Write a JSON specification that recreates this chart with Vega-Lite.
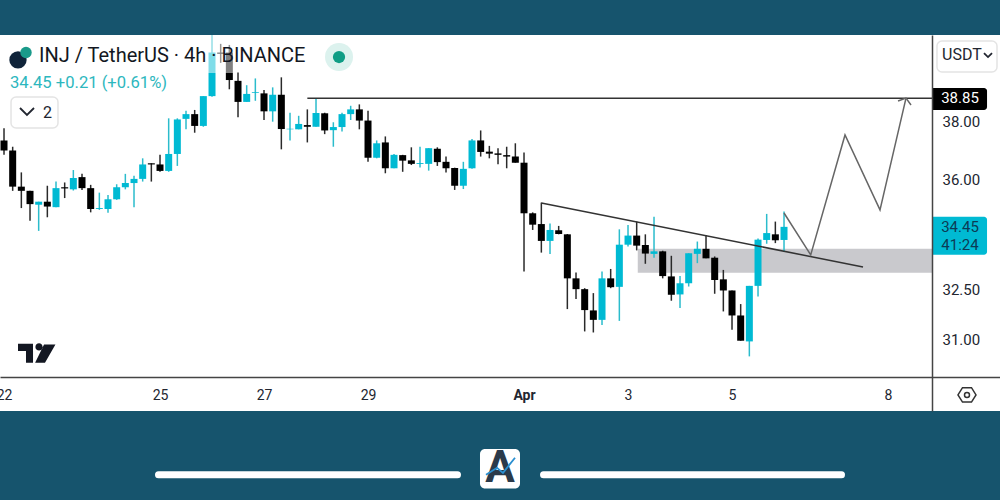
{
  "$schema": "https://vega.github.io/schema/vega-lite/v6.json",
  "width": 1000,
  "height": 376,
  "autosize": "none",
  "padding": {"top": 35, "bottom": 89, "left": 0, "right": 0},
  "background": "#16546d",
  "config": {"view": {"fill": "#ffffff", "stroke": null}, "font": "Roboto"},
  "datasets": {
    "candles": [
      {"t":"2024-03-22T00:00Z","o":37.35,"h":37.78,"l":36.85,"c":37.00},
      {"t":"2024-03-22T04:00Z","o":37.00,"h":37.13,"l":35.63,"c":35.77},
      {"t":"2024-03-22T08:00Z","o":35.77,"h":36.25,"l":35.06,"c":35.63},
      {"t":"2024-03-22T12:00Z","o":35.63,"h":35.63,"l":34.65,"c":35.19},
      {"t":"2024-03-22T16:00Z","o":35.17,"h":35.27,"l":34.32,"c":35.27},
      {"t":"2024-03-22T20:00Z","o":35.27,"h":35.80,"l":34.76,"c":35.11},
      {"t":"2024-03-23T00:00Z","o":35.09,"h":35.94,"l":35.09,"c":35.72},
      {"t":"2024-03-23T04:00Z","o":35.75,"h":35.91,"l":35.39,"c":35.71},
      {"t":"2024-03-23T08:00Z","o":35.68,"h":36.33,"l":35.64,"c":36.06},
      {"t":"2024-03-23T12:00Z","o":36.09,"h":36.20,"l":35.66,"c":35.72},
      {"t":"2024-03-23T16:00Z","o":35.72,"h":35.83,"l":34.92,"c":35.03},
      {"t":"2024-03-23T20:00Z","o":35.03,"h":35.57,"l":35.00,"c":35.06},
      {"t":"2024-03-24T00:00Z","o":35.03,"h":35.49,"l":34.91,"c":35.35},
      {"t":"2024-03-24T04:00Z","o":35.35,"h":35.85,"l":35.33,"c":35.75},
      {"t":"2024-03-24T08:00Z","o":35.75,"h":36.20,"l":35.68,"c":35.89},
      {"t":"2024-03-24T12:00Z","o":35.89,"h":36.14,"l":35.09,"c":36.03},
      {"t":"2024-03-24T16:00Z","o":36.03,"h":36.73,"l":35.94,"c":36.52},
      {"t":"2024-03-24T20:00Z","o":36.56,"h":36.56,"l":35.94,"c":36.52},
      {"t":"2024-03-25T00:00Z","o":36.52,"h":36.85,"l":36.27,"c":36.30},
      {"t":"2024-03-25T04:00Z","o":36.30,"h":38.13,"l":36.27,"c":36.88},
      {"t":"2024-03-25T08:00Z","o":36.88,"h":38.13,"l":36.47,"c":38.09},
      {"t":"2024-03-25T12:00Z","o":38.11,"h":38.40,"l":37.74,"c":38.28},
      {"t":"2024-03-25T16:00Z","o":38.28,"h":38.43,"l":37.62,"c":37.86},
      {"t":"2024-03-25T20:00Z","o":37.86,"h":38.93,"l":37.83,"c":38.93},
      {"t":"2024-03-26T00:00Z","o":38.93,"h":41.22,"l":38.91,"c":40.55},
      {"t":"2024-03-26T04:00Z","o":40.55,"h":40.88,"l":40.16,"c":40.50},
      {"t":"2024-03-26T08:00Z","o":40.55,"h":40.84,"l":39.18,"c":39.52},
      {"t":"2024-03-26T12:00Z","o":39.49,"h":39.80,"l":38.17,"c":38.72},
      {"t":"2024-03-26T16:00Z","o":38.72,"h":39.33,"l":38.72,"c":39.01},
      {"t":"2024-03-26T20:00Z","o":39.05,"h":39.58,"l":38.76,"c":39.08},
      {"t":"2024-03-27T00:00Z","o":39.03,"h":39.15,"l":38.07,"c":38.38},
      {"t":"2024-03-27T04:00Z","o":38.38,"h":39.25,"l":38.01,"c":38.98},
      {"t":"2024-03-27T08:00Z","o":38.98,"h":39.62,"l":37.04,"c":37.75},
      {"t":"2024-03-27T12:00Z","o":37.74,"h":38.33,"l":37.35,"c":37.76},
      {"t":"2024-03-27T16:00Z","o":37.74,"h":38.22,"l":37.74,"c":37.93},
      {"t":"2024-03-27T20:00Z","o":37.89,"h":38.45,"l":37.28,"c":37.83},
      {"t":"2024-03-28T00:00Z","o":37.83,"h":38.85,"l":37.83,"c":38.32},
      {"t":"2024-03-28T04:00Z","o":38.31,"h":38.33,"l":37.57,"c":37.70},
      {"t":"2024-03-28T08:00Z","o":37.71,"h":37.99,"l":37.13,"c":37.82},
      {"t":"2024-03-28T12:00Z","o":37.82,"h":38.33,"l":37.66,"c":38.28},
      {"t":"2024-03-28T16:00Z","o":38.28,"h":38.58,"l":38.07,"c":38.45},
      {"t":"2024-03-28T20:00Z","o":38.45,"h":38.63,"l":37.74,"c":38.05},
      {"t":"2024-03-29T00:00Z","o":38.05,"h":38.40,"l":36.61,"c":36.75},
      {"t":"2024-03-29T04:00Z","o":36.75,"h":37.35,"l":36.73,"c":37.25},
      {"t":"2024-03-29T08:00Z","o":37.28,"h":37.49,"l":36.22,"c":36.39},
      {"t":"2024-03-29T12:00Z","o":36.39,"h":36.88,"l":36.39,"c":36.85},
      {"t":"2024-03-29T16:00Z","o":36.84,"h":36.85,"l":36.27,"c":36.65},
      {"t":"2024-03-29T20:00Z","o":36.66,"h":37.11,"l":36.50,"c":36.54},
      {"t":"2024-03-30T00:00Z","o":36.54,"h":37.13,"l":36.42,"c":36.57},
      {"t":"2024-03-30T04:00Z","o":36.54,"h":37.08,"l":36.31,"c":37.08},
      {"t":"2024-03-30T08:00Z","o":37.06,"h":37.11,"l":36.47,"c":36.60},
      {"t":"2024-03-30T12:00Z","o":36.61,"h":36.79,"l":36.25,"c":36.39},
      {"t":"2024-03-30T16:00Z","o":36.40,"h":36.41,"l":35.66,"c":35.80},
      {"t":"2024-03-30T20:00Z","o":35.80,"h":36.61,"l":35.69,"c":36.37},
      {"t":"2024-03-31T00:00Z","o":36.39,"h":37.40,"l":36.37,"c":37.35},
      {"t":"2024-03-31T04:00Z","o":37.35,"h":37.70,"l":36.79,"c":36.95},
      {"t":"2024-03-31T08:00Z","o":36.96,"h":37.16,"l":36.73,"c":36.89},
      {"t":"2024-03-31T12:00Z","o":36.90,"h":37.08,"l":36.53,"c":36.85},
      {"t":"2024-03-31T16:00Z","o":36.84,"h":37.13,"l":36.39,"c":36.79},
      {"t":"2024-03-31T20:00Z","o":36.79,"h":37.25,"l":36.58,"c":36.58},
      {"t":"2024-04-01T00:00Z","o":36.58,"h":36.93,"l":33.04,"c":34.89},
      {"t":"2024-04-01T04:00Z","o":34.89,"h":34.92,"l":34.35,"c":34.52},
      {"t":"2024-04-01T08:00Z","o":34.54,"h":35.24,"l":33.63,"c":34.00},
      {"t":"2024-04-01T12:00Z","o":34.00,"h":34.56,"l":33.59,"c":34.35},
      {"t":"2024-04-01T16:00Z","o":34.34,"h":34.48,"l":34.21,"c":34.22},
      {"t":"2024-04-01T20:00Z","o":34.21,"h":34.22,"l":31.90,"c":32.83},
      {"t":"2024-04-02T00:00Z","o":32.83,"h":33.01,"l":32.20,"c":32.50},
      {"t":"2024-04-02T04:00Z","o":32.50,"h":32.53,"l":31.24,"c":31.87},
      {"t":"2024-04-02T08:00Z","o":31.86,"h":32.38,"l":31.21,"c":31.58},
      {"t":"2024-04-02T12:00Z","o":31.58,"h":33.04,"l":31.43,"c":32.83},
      {"t":"2024-04-02T16:00Z","o":32.83,"h":33.12,"l":32.53,"c":32.56},
      {"t":"2024-04-02T20:00Z","o":32.57,"h":34.37,"l":31.55,"c":33.88},
      {"t":"2024-04-03T00:00Z","o":33.88,"h":34.51,"l":33.82,"c":34.17},
      {"t":"2024-04-03T04:00Z","o":34.17,"h":34.62,"l":33.70,"c":33.85},
      {"t":"2024-04-03T08:00Z","o":33.87,"h":34.21,"l":33.28,"c":33.60},
      {"t":"2024-04-03T12:00Z","o":33.59,"h":34.78,"l":33.47,"c":33.67},
      {"t":"2024-04-03T16:00Z","o":33.67,"h":33.69,"l":32.83,"c":32.90},
      {"t":"2024-04-03T20:00Z","o":32.89,"h":33.53,"l":32.15,"c":32.33},
      {"t":"2024-04-04T00:00Z","o":32.34,"h":32.90,"l":31.93,"c":32.68},
      {"t":"2024-04-04T04:00Z","o":32.68,"h":33.61,"l":32.58,"c":33.61},
      {"t":"2024-04-04T08:00Z","o":33.59,"h":33.98,"l":33.30,"c":33.75},
      {"t":"2024-04-04T12:00Z","o":33.75,"h":34.19,"l":33.45,"c":33.45},
      {"t":"2024-04-04T16:00Z","o":33.47,"h":33.51,"l":32.36,"c":32.78},
      {"t":"2024-04-04T20:00Z","o":32.80,"h":33.09,"l":31.83,"c":32.46},
      {"t":"2024-04-05T00:00Z","o":32.46,"h":32.46,"l":31.29,"c":31.71},
      {"t":"2024-04-05T04:00Z","o":31.71,"h":32.05,"l":30.97,"c":30.97},
      {"t":"2024-04-05T08:00Z","o":30.95,"h":32.60,"l":30.52,"c":32.60},
      {"t":"2024-04-05T12:00Z","o":32.60,"h":34.08,"l":32.28,"c":34.04},
      {"t":"2024-04-05T16:00Z","o":34.03,"h":34.87,"l":33.91,"c":34.25},
      {"t":"2024-04-05T20:00Z","o":34.21,"h":34.62,"l":33.93,"c":34.02},
      {"t":"2024-04-06T00:00Z","o":34.03,"h":34.95,"l":33.65,"c":34.45}
    ],
    "drawings": [
      {"id":"level","t":"2024-03-27T20:00Z","p":38.85},
      {"id":"level","t":"2024-04-08T20:18Z","p":38.85},
      {"id":"trend","t":"2024-04-01T08:00Z","p":35.23},
      {"id":"trend","t":"2024-04-07T12:28Z","p":33.18},
      {"id":"zig","t":"2024-04-06T00:00Z","p":34.90},
      {"id":"zig","t":"2024-04-06T12:19Z","p":33.56},
      {"id":"zig","t":"2024-04-07T04:09Z","p":37.54},
      {"id":"zig","t":"2024-04-07T20:18Z","p":35.00},
      {"id":"zig","t":"2024-04-08T08:18Z","p":38.86},
      {"id":"head","t":"2024-04-08T04:37Z","p":38.75},
      {"id":"head","t":"2024-04-08T08:18Z","p":38.86},
      {"id":"head","t":"2024-04-08T10:37Z","p":38.61}
    ],
    "icons": [
      {"id":"chevron2","t":"2024-03-22T07:23Z","p":38.50},
      {"id":"chevron2","t":"2024-03-22T10:36Z","p":38.25},
      {"id":"chevron2","t":"2024-03-22T13:51Z","p":38.50},
      {"id":"chevronUsdt","t":"2024-04-09T20:18Z","p":40.53},
      {"id":"chevronUsdt","t":"2024-04-09T22:09Z","p":40.38},
      {"id":"chevronUsdt","t":"2024-04-10T00:00Z","p":40.53},
      {"id":"logoArrow","t":"2024-03-31T06:27Z","p":27.32},
      {"id":"logoArrow","t":"2024-03-31T11:33Z","p":27.50},
      {"id":"logoArrow","t":"2024-03-31T14:18Z","p":27.37},
      {"id":"logoArrow","t":"2024-03-31T19:51Z","p":27.76}
    ]
  },
  "layer": [
    {
      "data": {"values": [{"t":"2024-04-03T04:30Z","t2":"2024-04-08T20:18Z","p":33.75,"p2":33.00}]},
      "mark": {"type": "rect", "fill": "#c9c9cd"},
      "encoding": {
        "x": {
          "field": "t",
          "type": "temporal",
          "scale": {"type": "utc", "domain": ["2024-03-21T22:09Z", "2024-04-10T03:41Z"], "nice": false, "padding": 0},
          "axis": {
            "title": null,
            "orient": "bottom",
            "offset": -34,
            "grid": false,
            "ticks": false,
            "domainColor": "#444444",
            "domainWidth": 1.5,
            "labelColor": "#222630",
            "labelFontSize": 14,
            "labelPadding": 11,
            "labelOverlap": false,
            "labelBound": false,
            "labelFlush": false,
            "labelFontWeight": {"condition": {"test": "utcdate(datum.value) == 1", "value": "bold"}, "value": "normal"},
            "labelExpr": "utcdate(datum.value) == 1 ? 'Apr' : '' + utcdate(datum.value)",
            "values": [
              {"year": 2024, "month": "mar", "date": 22, "utc": true},
              {"year": 2024, "month": "mar", "date": 25, "utc": true},
              {"year": 2024, "month": "mar", "date": 27, "utc": true},
              {"year": 2024, "month": "mar", "date": 29, "utc": true},
              {"year": 2024, "month": "apr", "date": 1, "utc": true},
              {"year": 2024, "month": "apr", "date": 3, "utc": true},
              {"year": 2024, "month": "apr", "date": 5, "utc": true},
              {"year": 2024, "month": "apr", "date": 8, "utc": true}
            ],
            "zindex": 1
          }
        },
        "x2": {"field": "t2"},
        "y": {
          "field": "p",
          "type": "quantitative",
          "scale": {"type": "log", "domain": [29.0, 41.22], "nice": false, "zero": false},
          "axis": {
            "title": null,
            "orient": "right",
            "offset": -68,
            "grid": false,
            "ticks": false,
            "domainColor": "#444444",
            "domainWidth": 1.5,
            "labelColor": "#222630",
            "labelFontSize": 15,
            "labelPadding": 10,
            "labelBound": false,
            "labelFlush": false,
            "format": ".2f",
            "values": [31, 32.5, 36, 38],
            "zindex": 1
          }
        },
        "y2": {"field": "p2"}
      }
    },
    {
      "data": {"name": "candles"},
      "mark": {"type": "rule", "strokeWidth": 1.5},
      "encoding": {
        "x": {"field": "t", "type": "temporal"},
        "y": {"field": "l", "type": "quantitative"},
        "y2": {"field": "h"},
        "color": {"condition": {"test": "datum.c >= datum.o", "value": "#2bbccc"}, "value": "#2a2a2a"}
      }
    },
    {
      "data": {"name": "candles"},
      "mark": {"type": "bar", "size": 7},
      "encoding": {
        "x": {"field": "t", "type": "temporal"},
        "y": {"field": "o", "type": "quantitative"},
        "y2": {"field": "c"},
        "color": {"condition": {"test": "datum.c >= datum.o", "value": "#00bad3"}, "value": "#000000"}
      }
    },
    {
      "data": {"values": [{"t":"2024-03-25T22:00Z","t2":"2024-03-26T10:00Z","p":41.22,"p2":39.78}]},
      "mark": {"type": "rect", "fill": "#ffffff", "opacity": 0.5},
      "encoding": {
        "x": {"field": "t", "type": "temporal"},
        "x2": {"field": "t2"},
        "y": {"field": "p", "type": "quantitative"},
        "y2": {"field": "p2"}
      }
    },
    {
      "data": {"name": "drawings"},
      "mark": {"type": "line", "strokeWidth": 1.5},
      "encoding": {
        "x": {"field": "t", "type": "temporal"},
        "y": {"field": "p", "type": "quantitative"},
        "detail": {"field": "id"},
        "color": {
          "field": "id",
          "scale": {"domain": ["level", "trend", "zig", "head"], "range": ["#333333", "#333333", "#666666", "#666666"]},
          "legend": null
        }
      }
    },
    {
      "data": {"values": [
        {"t":"2024-04-08T20:18Z","t2":"2024-04-09T21:42Z","p":39.23,"p2":38.43}
      ]},
      "mark": {"type": "rect", "fill": "#000000", "cornerRadiusTopRight": 3, "cornerRadiusBottomRight": 3},
      "encoding": {
        "x": {"field": "t", "type": "temporal"},
        "x2": {"field": "t2"},
        "y": {"field": "p", "type": "quantitative"},
        "y2": {"field": "p2"}
      }
    },
    {
      "data": {"values": [
        {"t":"2024-04-08T20:18Z","t2":"2024-04-09T21:42Z","p":34.78,"p2":33.56}
      ]},
      "mark": {"type": "rect", "fill": "#00bad3", "cornerRadiusTopRight": 3, "cornerRadiusBottomRight": 3},
      "encoding": {
        "x": {"field": "t", "type": "temporal"},
        "x2": {"field": "t2"},
        "y": {"field": "p", "type": "quantitative"},
        "y2": {"field": "p2"}
      }
    },
    {
      "data": {"values": [
        {"t":"2024-03-22T03:14Z","t2":"2024-03-23T00:55Z","p":38.90,"p2":37.79},
        {"t":"2024-04-08T22:36Z","t2":"2024-04-10T02:18Z","p":40.99,"p2":39.82}
      ]},
      "mark": {"type": "rect", "fill": "#ffffff", "stroke": "#e4e4e4", "strokeWidth": 1.5, "cornerRadius": 5},
      "encoding": {
        "x": {"field": "t", "type": "temporal"},
        "x2": {"field": "t2"},
        "y": {"field": "p", "type": "quantitative"},
        "y2": {"field": "p2"}
      }
    },
    {
      "data": {"values": [
        {"t":"2024-03-24T23:18Z","t2":"2024-03-30T17:18Z","p":27.32},
        {"t":"2024-04-01T09:00Z","t2":"2024-04-07T02:32Z","p":27.32}
      ]},
      "mark": {"type": "rule", "color": "#ffffff", "strokeWidth": 7, "strokeCap": "round"},
      "encoding": {
        "x": {"field": "t", "type": "temporal"},
        "x2": {"field": "t2"},
        "y": {"field": "p", "type": "quantitative"}
      }
    },
    {
      "data": {"values": [{"t":"2024-03-31T03:41Z","t2":"2024-03-31T22:09Z","p":27.99,"p2":26.97}]},
      "mark": {"type": "rect", "fill": "#ffffff", "cornerRadius": 5},
      "encoding": {
        "x": {"field": "t", "type": "temporal"},
        "x2": {"field": "t2"},
        "y": {"field": "p", "type": "quantitative"},
        "y2": {"field": "p2"}
      }
    },
    {
      "data": {"values": [{"t":"2024-03-31T12:55Z","p":27.47,"label":"A"}]},
      "mark": {"type": "text", "font": "Roboto", "fontSize": 44, "fontWeight": "bold", "color": "#2b3a4a", "baseline": "middle", "align": "center"},
      "encoding": {
        "x": {"field": "t", "type": "temporal"},
        "y": {"field": "p", "type": "quantitative"},
        "text": {"field": "label"}
      }
    },
    {
      "data": {"name": "icons"},
      "mark": {"type": "line", "strokeWidth": 1.8},
      "encoding": {
        "x": {"field": "t", "type": "temporal"},
        "y": {"field": "p", "type": "quantitative"},
        "detail": {"field": "id"},
        "stroke": {
          "field": "id",
          "scale": {"domain": ["chevron2", "chevronUsdt", "logoArrow"], "range": ["#222630", "#222630", "#2a8fd0"]},
          "legend": null
        }
      }
    },
    {
      "data": {"values": [{"t":"2024-03-28T10:37Z","p":40.38}]},
      "mark": {"type": "circle", "size": 784, "fill": "#dcf2ee", "opacity": 1},
      "encoding": {
        "x": {"field": "t", "type": "temporal"},
        "y": {"field": "p", "type": "quantitative"}
      }
    },
    {
      "data": {"values": [{"t":"2024-03-28T10:37Z","p":40.38}]},
      "mark": {"type": "circle", "size": 150, "fill": "#0f9d85", "opacity": 1},
      "encoding": {
        "x": {"field": "t", "type": "temporal"},
        "y": {"field": "p", "type": "quantitative"}
      }
    },
    {
      "data": {"values": [{"t":"2024-03-22T06:27Z","p":40.27}]},
      "mark": {"type": "circle", "size": 300, "fill": "#10243a", "opacity": 1},
      "encoding": {
        "x": {"field": "t", "type": "temporal"},
        "y": {"field": "p", "type": "quantitative"}
      }
    },
    {
      "data": {"values": [{"t":"2024-03-22T10:09Z","p":40.55}]},
      "mark": {"type": "circle", "size": 130, "fill": "#1a9a8a", "opacity": 1},
      "encoding": {
        "x": {"field": "t", "type": "temporal"},
        "y": {"field": "p", "type": "quantitative"}
      }
    },
    {
      "data": {"values": [{"t":"2024-03-22T15:14Z","p":30.59}]},
      "mark": {
        "type": "point",
        "filled": true,
        "opacity": 1,
        "fill": "#131722",
        "size": 1444,
        "shape": "M-1,-.53 L-.21,-.53 L-.21,.47 L-.58,.47 L-.58,-.16 L-1,-.16 Z M.37,-.5 L.97,-.5 L.42,.47 L-.1,.47 Z M-.085,-.37 A.19,.19 0 1,0 .295,-.37 A.19,.19 0 1,0 -.085,-.37 Z"
      },
      "encoding": {
        "x": {"field": "t", "type": "temporal"},
        "y": {"field": "p", "type": "quantitative"}
      }
    },
    {
      "data": {"values": [{"t":"2024-04-09T12:27Z","p":29.44}]},
      "mark": {
        "type": "point",
        "filled": false,
        "opacity": 1,
        "stroke": "#333333",
        "strokeWidth": 1.5,
        "size": 400,
        "shape": "M-.9,0 L-.45,-.72 L.45,-.72 L.9,0 L.45,.72 L-.45,.72 Z M-.25,0 A.25,.25 0 1,0 .25,0 A.25,.25 0 1,0 -.25,0 Z"
      },
      "encoding": {
        "x": {"field": "t", "type": "temporal"},
        "y": {"field": "p", "type": "quantitative"}
      }
    },
    {
      "data": {"values": [{"t":"2024-03-22T16:09Z","p":40.42,"label":"INJ / TetherUS · 4h · BINANCE"}]},
      "mark": {"type": "text", "fontSize": 20, "color": "#131722", "align": "left", "baseline": "middle"},
      "encoding": {
        "x": {"field": "t", "type": "temporal"},
        "y": {"field": "p", "type": "quantitative"},
        "text": {"field": "label"}
      }
    },
    {
      "data": {"values": [{"t":"2024-03-22T02:46Z","p":39.41,"label":"34.45  +0.21 (+0.61%)"}]},
      "mark": {"type": "text", "fontSize": 16.6, "color": "#2db7be", "align": "left", "baseline": "middle"},
      "encoding": {
        "x": {"field": "t", "type": "temporal"},
        "y": {"field": "p", "type": "quantitative"},
        "text": {"field": "label"}
      }
    },
    {
      "data": {"values": [
        {"t":"2024-03-22T18:00Z","p":38.32,"label":"2"},
        {"t":"2024-04-09T00:55Z","p":40.46,"label":"USDT"}
      ]},
      "mark": {"type": "text", "fontSize": 16, "color": "#222630", "align": "left", "baseline": "middle"},
      "encoding": {
        "x": {"field": "t", "type": "temporal"},
        "y": {"field": "p", "type": "quantitative"},
        "text": {"field": "label"}
      }
    },
    {
      "data": {"values": [{"t":"2024-04-09T09:14Z","p":38.85,"label":"38.85"}]},
      "mark": {"type": "text", "fontSize": 15, "color": "#ffffff", "align": "center", "baseline": "middle"},
      "encoding": {
        "x": {"field": "t", "type": "temporal"},
        "y": {"field": "p", "type": "quantitative"},
        "text": {"field": "label"}
      }
    },
    {
      "data": {"values": [
        {"t":"2024-04-09T09:14Z","p":34.45,"label":"34.45"},
        {"t":"2024-04-09T09:14Z","p":33.87,"label":"41:24"}
      ]},
      "mark": {"type": "text", "fontSize": 15, "color": "#0c3a55", "align": "center", "baseline": "middle"},
      "encoding": {
        "x": {"field": "t", "type": "temporal"},
        "y": {"field": "p", "type": "quantitative"},
        "text": {"field": "label"}
      }
    }
  ]
}
